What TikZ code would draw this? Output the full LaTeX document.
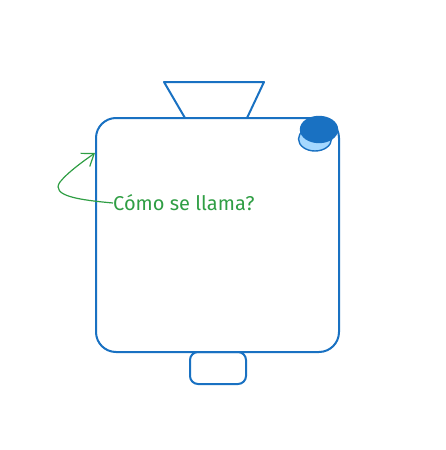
\documentclass[tikz,border=0pt]{standalone}
\usepackage{fontspec}
\setmainfont{Fira Sans}
\usetikzlibrary{arrows.meta}
\definecolor{eblue}{HTML}{1971C2}
\definecolor{elight}{HTML}{A5D8FF}
\definecolor{egreen}{HTML}{2F9E44}
\tikzset{
  outline/.style={draw=eblue, line width=2pt, line join=round},
  lbl/.style={text=egreen, font=\fontsize{20}{23}\selectfont, inner sep=0pt, anchor=west},
  pointer/.style={draw=egreen, line width=1.2pt, -{Straight Barb[length=11pt,width=16pt]}}
}
\begin{document}
\begin{tikzpicture}[x=1pt,y=-1pt]
\useasboundingbox (0,0) rectangle (445,450);
% top trapezoid
\draw[outline] (164,82) -- (264,82) -- (247,118) -- (185,118) -- cycle;
% bottom tab
\draw[outline, rounded corners=8pt] (190,352) rectangle (246,384);
% main body
\draw[outline, fill=white, rounded corners=20pt] (96,118) rectangle (339,352);
\node[draw=none, minimum size=0pt] (body) at (217,235) {};
% button
\draw[outline, fill=elight, line width=1.4pt] (315,139) ellipse [x radius=16.5, y radius=12];
\draw[outline, fill=eblue, line width=1.4pt] (319,129.5) ellipse [x radius=18.5, y radius=13];
% label and arrow
\node[lbl] (q) at (113,203) {Cómo se llama?};
\coordinate (tip) at (95,153);
\draw[pointer] (q.west) .. controls (80,200) and (50,196) .. (60,182) .. controls (68,172) and (85,160) .. (tip);
\end{tikzpicture}
\end{document}
